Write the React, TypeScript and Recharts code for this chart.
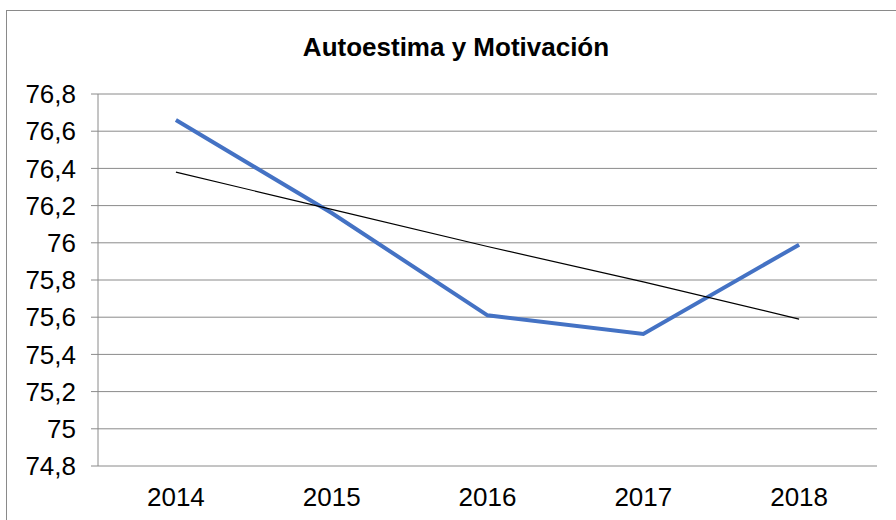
import { CartesianGrid, Line, LineChart, XAxis, YAxis } from "recharts";

const years = [2014, 2015, 2016, 2017, 2018];
const autoestima = [76.66, 76.16, 75.61, 75.51, 75.99];
const tendencia = [76.38, 76.18, 75.98, 75.79, 75.59];
const yTicks = [74.8, 75, 75.2, 75.4, 75.6, 75.8, 76, 76.2, 76.4, 76.6, 76.8];
const yearBounds = [2013.5, 2014.5, 2015.5, 2016.5, 2017.5, 2018.5];

const data = years.map((year, i) => ({
  year,
  autoestima: autoestima[i],
  tendencia: tendencia[i],
}));

const font = '"Liberation Sans", Arial, sans-serif';
const gray = "#8a8a8a";

const fmt = (v: number) => String(Number(v.toFixed(1))).replace(".", ",");

export default function App() {
  return (
    <div style={{ position: "absolute", left: 0, top: 0, width: 896, height: 520, overflow: "hidden", background: "#fff" }}>
      <div
        style={{
          position: "absolute",
          left: 6,
          top: 10,
          width: 910,
          height: 530,
          border: `1px solid ${gray}`,
        }}
      />
      <div
        style={{
          position: "absolute",
          left: 0,
          top: 34,
          width: 912,
          textAlign: "center",
          fontFamily: font,
          fontWeight: "bold",
          fontSize: 26,
          lineHeight: "26px",
          color: "#000",
        }}
      >
        Autoestima y Motivación
      </div>
      <div style={{ position: "absolute", left: 0, top: 0 }}>
        <LineChart width={896} height={520} data={data} margin={{ top: 94, right: 19, bottom: 0, left: 0 }}>
          <CartesianGrid vertical={false} stroke={gray} xAxisId="bounds" />
          <XAxis
            xAxisId="bounds"
            type="number"
            dataKey="year"
            domain={[2013.5, 2018.5]}
            ticks={yearBounds}
            tickFormatter={() => ""}
            tickSize={6}
            height={0}
            stroke={gray}
            axisLine={{ stroke: gray }}
            tickLine={{ stroke: gray }}
          />
          <XAxis
            xAxisId="years"
            type="number"
            dataKey="year"
            domain={[2013.5, 2018.5]}
            ticks={years}
            axisLine={false}
            tickLine={false}
            tickSize={0}
            tickMargin={22}
            height={54}
            tick={{ fill: "#000", fontSize: 26, fontFamily: font }}
          />
          <YAxis
            domain={[74.8, 76.8]}
            ticks={yTicks}
            width={98}
            tickSize={7}
            tickMargin={15}
            tickFormatter={fmt}
            stroke={gray}
            axisLine={{ stroke: gray }}
            tickLine={{ stroke: gray }}
            tick={{ fill: "#000", fontSize: 26, fontFamily: font }}
            interval={0}
          />
          <Line
            xAxisId="years"
            type="linear"
            dataKey="autoestima"
            stroke="#4472C4"
            strokeWidth={4}
            dot={false}
            isAnimationActive={false}
          />
          <Line
            xAxisId="years"
            type="linear"
            dataKey="tendencia"
            stroke="#000"
            strokeWidth={1.2}
            dot={false}
            isAnimationActive={false}
          />
        </LineChart>
      </div>
    </div>
  );
}
